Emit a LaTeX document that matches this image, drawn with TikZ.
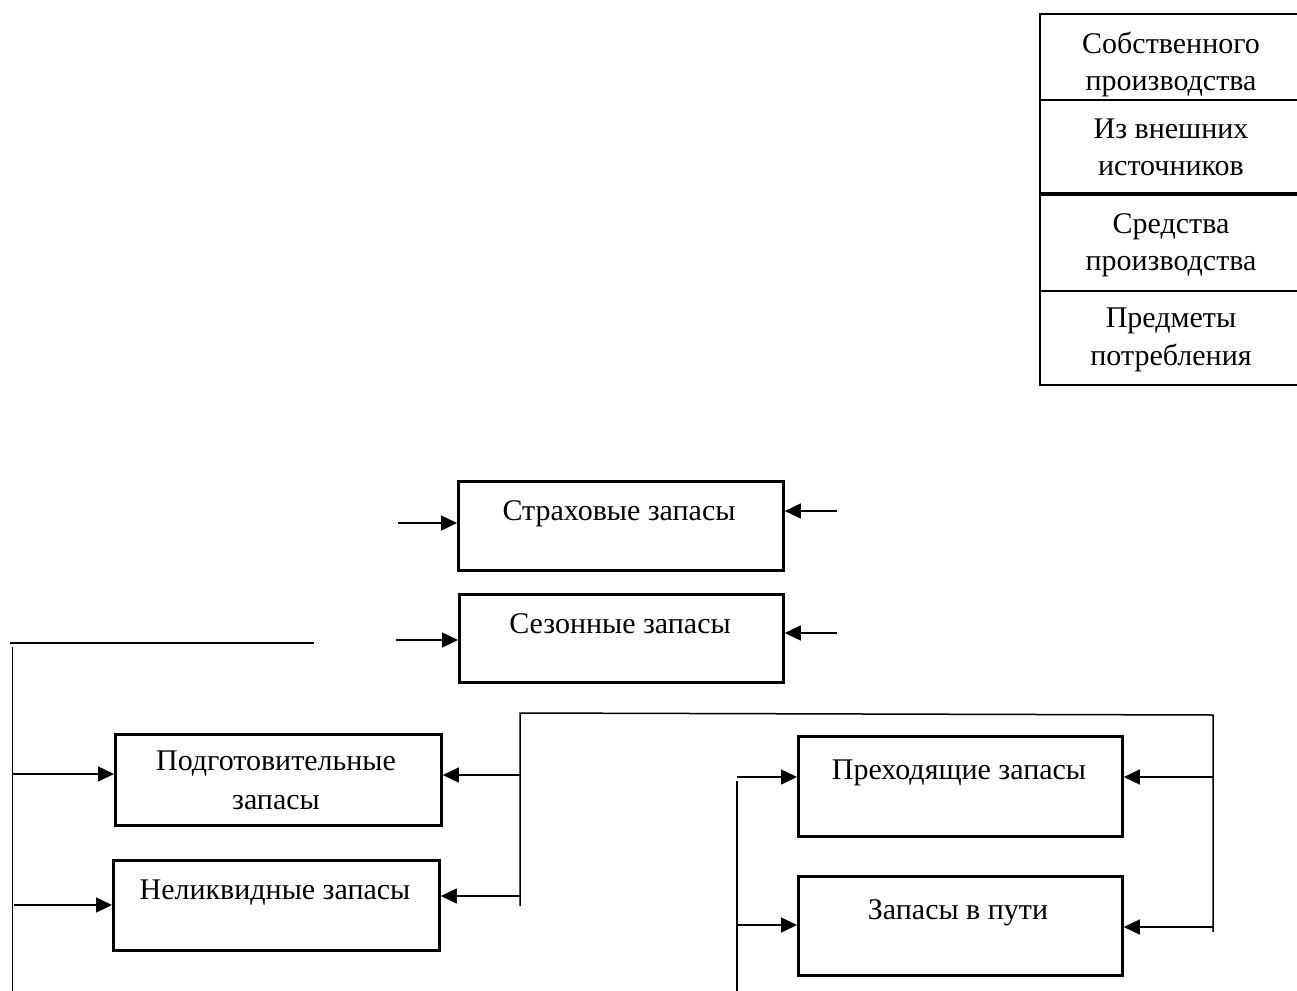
\documentclass[tikz,border=0pt]{standalone}
\usepackage{fontspec}
\setmainfont{Liberation Serif}
\usetikzlibrary{arrows.meta}
\begin{document}
\begin{tikzpicture}[x=1pt,y=-1pt,
  box/.style={draw, line width=2.8pt, inner sep=0pt, anchor=north west},
  cell/.style={draw, line width=2.4pt, inner sep=0pt, anchor=north west, minimum width=270pt},
  txt/.style={anchor=base, inner sep=0pt, font=\fontsize{30}{36}\selectfont},
  conn/.style={line width=1.5pt},
  arr/.style={conn, -{Triangle[length=16pt,width=15pt]}}]
\useasboundingbox (0,0) rectangle (1297,990);
\clip (0,0) rectangle (1297,990);

% table at top right
\node[cell, minimum height=86pt] (c1) at (1039,13) {};
\node[cell, minimum height=93pt] (c2) at (1039,99) {};
\node[cell, minimum height=98pt] (c3) at (1039,192) {};
\node[cell, minimum height=94pt] (c4) at (1039,290) {};
\draw[line width=3.6pt] (c2.south west) -- (c2.south east);
\node[txt] (t1a) at (1171,53) {Собственного};
\node[txt] (t1b) at (1171,90) {производства};
\node[txt] (t2a) at (1171,138) {Из внешних};
\node[txt] (t2b) at (1171,175) {источников};
\node[txt] (t3a) at (1171,233) {Средства};
\node[txt] (t3b) at (1171,270) {производства};
\node[txt] (t4a) at (1171,327) {Предметы};
\node[txt] (t4b) at (1171,365) {потребления};

% boxes
\node[box, minimum width=325pt, minimum height=89pt] (strah) at (457,480) {};
\node[box, minimum width=324pt, minimum height=88pt] (sez) at (458,593) {};
\node[box, minimum width=326pt, minimum height=91pt] (podg) at (114,733) {};
\node[box, minimum width=326pt, minimum height=90pt] (nelik) at (112,859) {};
\node[box, minimum width=324pt, minimum height=100pt] (preh) at (797,735) {};
\node[box, minimum width=324pt, minimum height=99pt] (puti) at (797,875) {};

\node[txt] (ts) at (619,520) {Страховые запасы};
\node[txt] (tz) at (620,633) {Сезонные запасы};
\node[txt] (tp1) at (276,770) {Подготовительные};
\node[txt] (tp2) at (276,809) {запасы};
\node[txt] (tn) at (275,899) {Неликвидные запасы};
\node[txt] (tr) at (959,779) {Преходящие запасы};
\node[txt] (tv) at (958,919) {Запасы в пути};

% free ends
\coordinate (sL) at (398,523);
\coordinate (sR) at (837,511);
\coordinate (zL) at (396,640);
\coordinate (zR) at (837,633);
\coordinate (lt1) at (10,643);
\coordinate (lt2) at (314,643);
\coordinate (lv1) at (12.5,647);
\coordinate (lv2) at (12.5,992);
\coordinate (la1) at (12.5,774);
\coordinate (la2) at (14,905);
\coordinate (mv1) at (520,713);
\coordinate (mv2) at (520,906);
\coordinate (ma1) at (520,775);
\coordinate (ma2) at (520,896);
\coordinate (rt) at (1213,715);
\coordinate (rb) at (1213,932);
\coordinate (ra1) at (1213,777);
\coordinate (ra2) at (1213,927);
\coordinate (pv1) at (737,781);
\coordinate (pv2) at (737,992);
\coordinate (pa1) at (737,777);
\coordinate (pa2) at (737,925);

% connectors
\draw[arr] (sL) -- (strah.west |- sL);
\draw[arr] (sR) -- (strah.east |- sR);
\draw[arr] (zL) -- (sez.west |- zL);
\draw[arr] (zR) -- (sez.east |- zR);

\draw[conn] (lt1) -- (lt2);
\draw[conn] (lv1) -- (lv2);
\draw[arr] (la1) -- (podg.west |- la1);
\draw[arr] (la2) -- (nelik.west |- la2);

\draw[conn] (mv2) -- (mv1) -- (rt) -- (rb);
\draw[arr] (ma1) -- (podg.east |- ma1);
\draw[arr] (ma2) -- (nelik.east |- ma2);
\draw[arr] (ra1) -- (preh.east |- ra1);
\draw[arr] (ra2) -- (puti.east |- ra2);

\draw[conn] (pv1) -- (pv2);
\draw[arr] (pa1) -- (preh.west |- pa1);
\draw[arr] (pa2) -- (puti.west |- pa2);
\end{tikzpicture}
\end{document}
